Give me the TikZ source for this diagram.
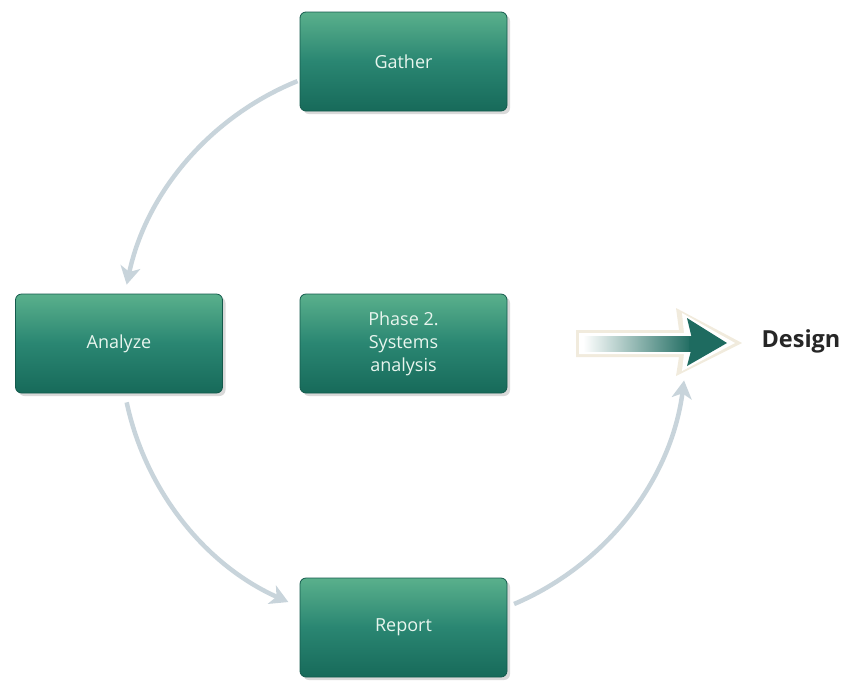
\documentclass[tikz,border=0pt]{standalone}
\usepackage{fontspec}
\setmainfont{Open Sans}
\usetikzlibrary{arrows.meta,shadows,calc}
\definecolor{boxtop}{HTML}{5AB08C}
\definecolor{boxmid}{HTML}{2A8672}
\definecolor{boxbot}{HTML}{176A5A}
\definecolor{boxedge}{HTML}{145A4C}
\definecolor{boxtext}{HTML}{E8F5EE}
\definecolor{flowcol}{HTML}{C8D4DB}
\definecolor{designteal}{HTML}{1E6B60}
\definecolor{glow}{HTML}{F1EBDD}
\tikzset{
  stepbox/.style={draw=boxedge, line width=0.8pt, rounded corners=6pt,
    minimum width=207pt, minimum height=99pt, align=center,
    top color=boxtop, bottom color=boxbot, middle color=boxmid,
    text=boxtext, font=\fontsize{18}{23}\selectfont,
    drop shadow={opacity=0.3, shadow xshift=3pt, shadow yshift=-3pt}},
  flow/.style={draw=flowcol, line width=4.5pt,
    -{Stealth[length=18pt,width=20pt,inset=5pt]}}
}
\begin{document}
\begin{tikzpicture}[x=1pt,y=-1pt]
\useasboundingbox (0,0) rectangle (845,681);
% boxes
\node[stepbox] (gather) at (403.5,61.5) {Gather};
\node[stepbox] (analyze) at (119,343.5) {Analyze};
\node[stepbox] (phase) at (403.5,343.5) {Phase 2.\\Systems\\analysis};
\node[stepbox] (report) at (403.5,627.5) {Report};
% cycle arrows centred on the middle box
\draw[flow] ($(phase.center)+(248:283)$) arc[start angle=248, end angle=192, radius=283];
\draw[flow] ($(phase.center)+(168:283)$) arc[start angle=168, end angle=114, radius=283];
\draw[flow] ($(phase.center)+(67:283)$) arc[start angle=67, end angle=7.5, radius=283];
% design arrow
\coordinate (tail) at (583,344);
\node[font=\fontsize{23.5}{28}\selectfont\bfseries, text=black!85, anchor=west] (design) at (758,341) {Design};
\fill[glow] (576,330) -- (679,330) -- (676,308) -- (742,343) -- (676,376) -- (679,357) -- (576,357) -- cycle;
\fill[white] (579,333) -- (684,333) -- (682,313) -- (735,343) -- (682,371) -- (684,354) -- (579,354) -- cycle;
\shade[left color=white, right color=designteal] (tail) ++(0,-7.5) rectangle (692,351.5);
\fill[designteal] (687,318) -- (727,343) -- (687,366) -- (693,343) -- cycle;
\fill[designteal] (689,336.5) rectangle (700,351.5);
\end{tikzpicture}
\end{document}
